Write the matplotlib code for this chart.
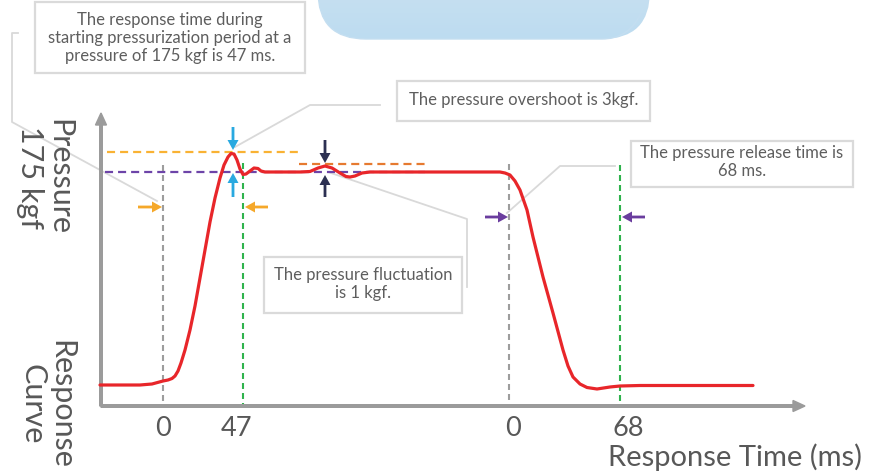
import numpy as np
import matplotlib
matplotlib.use("Agg")
import matplotlib.pyplot as plt
from matplotlib.patches import FancyBboxPatch, Rectangle
from matplotlib.colors import LinearSegmentedColormap

plt.rcParams['font.family'] = ['Lato', 'DejaVu Sans']
plt.rcParams['lines.scale_dashes'] = False

# ---- data (in canvas pixel units) ----
curve_x = [100, 120, 140, 152, 163, 168, 172, 175, 178, 181, 185, 190, 195, 200, 205, 210,
           215, 220, 224, 228, 231, 234, 237, 240, 243, 246, 250, 254, 258, 261,
           265, 300, 310, 318, 325, 332, 340, 346, 350, 355, 362, 370, 500, 505,
           510, 515, 520, 527, 533, 543, 553, 563, 568, 573, 580, 587, 597, 610,
           620, 640, 753]
curve_y = [385, 385, 385, 384, 381, 380, 378.5, 376, 371, 363, 350, 330, 306, 278, 250, 222,
           198, 178, 165, 157, 153.5, 154, 160, 169, 174.5, 174, 171, 168, 168.5, 171,
           172, 172, 171.5, 168, 166, 168, 173, 176.5, 177, 176, 173, 172, 172, 173,
           175, 181, 190, 210, 237, 277, 313, 350, 366, 377, 384, 387.5, 389, 387,
           386, 385.5, 385.5]

tick_labels = ["0", "47", "0", "68"]
tick_pos = [163, 237, 513, 628]

start_x = 163      # pressurization start
reach_x = 243      # pressure reached (47 ms)
release_x = 509    # release start
released_x = 620   # released (68 ms)
peak_y = 152       # overshoot level
set_y = 172        # set pressure (175 kgf)
fluct_y = 164      # fluctuation level

notes = {
    "response": "The response time during\nstarting pressurization period at a\npressure of 175 kgf is 47 ms.",
    "overshoot": "The pressure overshoot is 3kgf.",
    "fluct": "The pressure fluctuation\nis 1 kgf.",
    "release": "The pressure release time is\n68 ms.",
}

W, H = 886, 472
fig = plt.figure(figsize=(W / 100, H / 100), dpi=100)
ax = fig.add_axes([0, 0, 1, 1])
ax.set_xlim(0, W)
ax.set_ylim(H, 0)
ax.axis('off')

TXT = '#5e5e5e'
BOX_EC = '#dadada'
LEAD = '#d9d9d9'
NOTE_FS = 12

# ---- top blue rounded panel (cut off) ----
panel = FancyBboxPatch((318, -90), 332, 129, boxstyle="round,pad=0,rounding_size=48",
                       fc='none', ec='#c4def0', lw=1.0, zorder=1)
ax.add_patch(panel)
cmap = LinearSegmentedColormap.from_list('g', ['#d6e6f2', '#bddcf0'])
grad = np.linspace(0, 1, 100).reshape(-1, 1)
im = ax.imshow(grad, cmap=cmap, extent=(318, 650, 39, -90), origin='upper',
               aspect='auto', zorder=0.9)
im.set_clip_path(panel)
ax.set_xlim(0, W)
ax.set_ylim(H, 0)

# ---- axes ----
AX = '#9b9b9b'
ax.arrow(101, 406, 0, -293, width=2.6, head_width=11, head_length=12,
         length_includes_head=True, fc=AX, ec=AX, zorder=3)
ax.arrow(101, 406, 704, 0, width=2.6, head_width=11, head_length=12,
         length_includes_head=True, fc=AX, ec=AX, zorder=3)

# ---- dashed guides ----
ax.plot([start_x, start_x], [165, 404], color='#9d9d9d', lw=1.5, dashes=(4.3, 2.9), zorder=2)
ax.plot([release_x, release_x], [164, 404], color='#9d9d9d', lw=1.5, dashes=(4.3, 2.9), zorder=2)
ax.plot([reach_x, reach_x], [163, 404], color='#2fb34d', lw=1.5, dashes=(4.3, 2.9), zorder=2)
ax.plot([released_x, released_x], [165, 404], color='#2fb34d', lw=1.5, dashes=(4.3, 2.9), zorder=2)
ax.plot([107, 302], [peak_y, peak_y], color='#f9b233', lw=1.6, dashes=(5.8, 3.6), zorder=2)
ax.plot([105, 425], [set_y, set_y], color='#6d44a8', lw=1.6, dashes=(5.8, 3.6), zorder=2)
ax.plot([299, 425], [fluct_y, fluct_y], color='#e67a30', lw=1.6, dashes=(5.8, 3.6), zorder=2)

# ---- leader lines ----
for xs, ys in [([18, 12, 12, 157], [33, 33, 122, 201]),
               ([235, 310, 380], [147, 105, 105]),
               ([328, 467, 467], [172, 219, 287]),
               ([507, 560, 615], [213, 166, 166])]:
    ax.plot(xs, ys, color=LEAD, lw=1.3, zorder=1.5)

# ---- response curve ----
ax.plot(curve_x, curve_y, color='#e8262a', lw=2.3, solid_joinstyle='round',
        solid_capstyle='round', zorder=4)

# ---- small arrows ----
def arr(x0, y0, x1, y1, c):
    ax.arrow(x0, y0, x1 - x0, y1 - y0, width=2.8, head_width=11, head_length=10,
             length_includes_head=True, fc=c, ec=c, lw=0, zorder=5)

BLUE, NAVY, ORG, PUR = '#29a9e0', '#2c3052', '#f5a82a', '#6a3d9e'
arr(233, 127, 233, 150, BLUE)
arr(233, 197, 233, 173, BLUE)
arr(325, 140, 325, 163, NAVY)
arr(325, 197, 325, 175, NAVY)
arr(138, 207, 162, 207, ORG)
arr(268, 207, 245, 207, ORG)
arr(485, 217, 508, 217, PUR)
arr(645, 217, 622, 217, PUR)

# ---- note boxes ----
def box(x0, y0, x1, y1):
    ax.add_patch(Rectangle((x0, y0), x1 - x0, y1 - y0, fc='white', ec=BOX_EC,
                           lw=1.6, zorder=6))

box(35, 2, 305, 73)
ax.text(170, 38, notes["response"], ha='center', va='center', fontsize=NOTE_FS,
        color=TXT, linespacing=1.13, zorder=7)
box(397, 81, 650, 121)
ax.text(524, 100, notes["overshoot"], ha='center', va='center', fontsize=NOTE_FS,
        color=TXT, zorder=7)
box(264, 257, 462, 313)
ax.text(363, 284, notes["fluct"], ha='center', va='center', fontsize=NOTE_FS,
        color=TXT, linespacing=1.13, zorder=7)
box(631, 141, 853, 187)
ax.text(742, 162, notes["release"], ha='center', va='center', fontsize=NOTE_FS,
        color=TXT, linespacing=1.13, zorder=7)

# ---- axis texts ----
BIG = '#585858'
ax.text(45, 177, "Pressure\n175 kgf", rotation=270, ha='center', va='center',
        multialignment='center', fontsize=22, color=BIG, linespacing=1.05, zorder=7)
ax.text(47, 404, "Response\nCurve", rotation=270, ha='center', va='center',
        multialignment='center', fontsize=22, color=BIG, linespacing=1.05, zorder=7)
for lab, xp in zip(tick_labels, tick_pos):
    ax.text(xp, 428, lab, ha='center', va='center', fontsize=19.5, color=BIG, zorder=7)
ax.text(862, 457, "Response Time (ms)", ha='right', va='center', fontsize=21,
        color=BIG, zorder=7)

fig.savefig("out.png", dpi=100)
